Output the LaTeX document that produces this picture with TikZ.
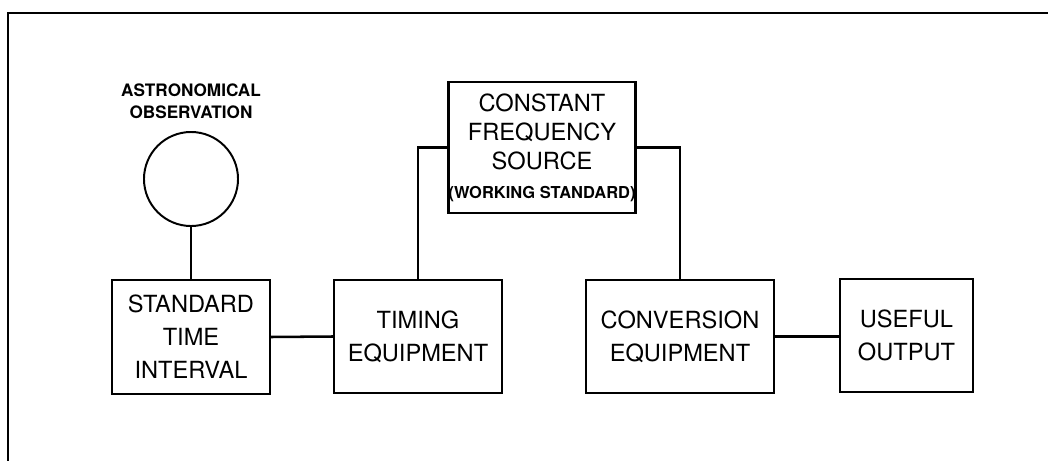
\documentclass[tikz,border=0pt]{standalone}
\usepackage{fontspec}
\setmainfont{TeX Gyre Heros}
\begin{document}
\begin{tikzpicture}[x=0.025cm,y=-0.025cm,
  box/.style={draw,line width=1.5pt,align=center,inner sep=0pt,
    font=\fontsize{16.8}{23.5}\selectfont},
  link/.style={line width=1.8pt}]
\useasboundingbox (0,0) rectangle (1048,461);
\draw[line width=1.2pt] (8,461)--(8,13)--(1048,13);

\node[circle,draw,line width=1.4pt,minimum size=2.35cm,inner sep=0pt] (obs) at (191,179) {};
\node[align=center,font=\bfseries\fontsize{12.2}{15.6}\selectfont] (obslabel) at (191,101)
  {ASTRONOMICAL\\OBSERVATION};

\node[box,minimum width=3.93cm,minimum height=2.85cm] (sti) at (191,337) {STANDARD\\TIME\\INTERVAL};
\node[box,minimum width=4.2cm,minimum height=2.83cm] (timing) at (418,336.5) {TIMING\\EQUIPMENT};
\node[box,minimum width=4.65cm,minimum height=3.28cm,font=\fontsize{16.8}{20.6}\selectfont] (cfs) at (542,147.5)
  {CONSTANT\\FREQUENCY\\SOURCE\\{\bfseries\fontsize{11.7}{14}\selectfont(WORKING STANDARD)}};
\node[box,minimum width=4.7cm,minimum height=2.83cm] (conv) at (680,336.5) {CONVERSION\\EQUIPMENT};
\node[box,minimum width=3.33cm,minimum height=2.83cm] (useful) at (906.5,335.5) {USEFUL\\OUTPUT};

\draw[link] (obs.south)--(sti.north);
\draw[link] (sti.east)--(timing.west);
\draw[link] (cfs.west) -| (timing.north);
\draw[link] (cfs.east) -| (conv.north);
\draw[link] (conv.east)--(conv.east -| useful.west);
\end{tikzpicture}
\end{document}
